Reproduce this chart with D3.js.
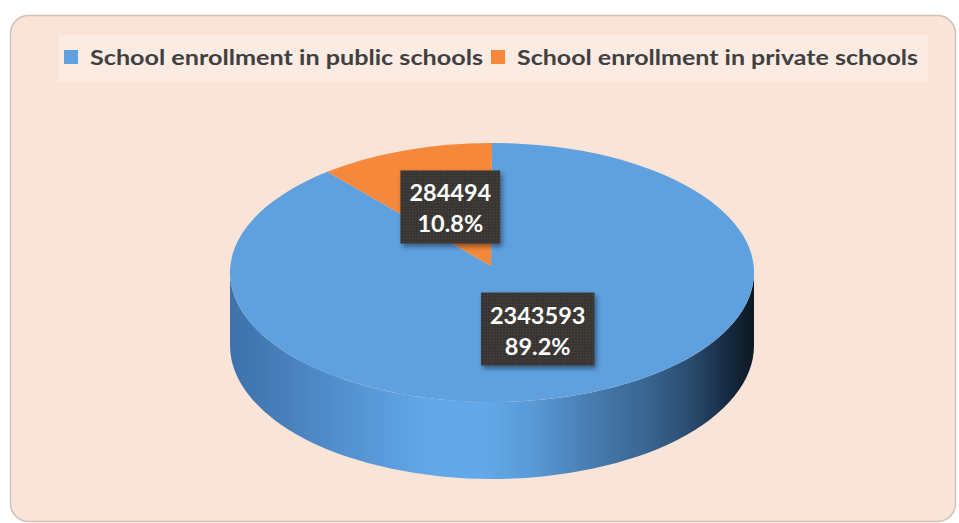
<!DOCTYPE html>
<html>
<head>
<meta charset="utf-8">
<script src="https://cdn.jsdelivr.net/npm/d3@7"></script>
<style>
  html, body { margin: 0; padding: 0; background: #ffffff; }
  svg { display: block; }
</style>
</head>
<body>
<svg id="chart" width="959" height="523"></svg>
<script>
// Enrollment by school type
const categories = ["School enrollment in public schools", "School enrollment in private schools"];
const enrollment = [2343593, 284494];
const sliceColors = ["#5fa0df", "#f5883a"];

const W = 959, H = 523;
const svg = d3.select("#chart");
const defs = svg.append("defs");

// --- frame -------------------------------------------------------------
svg.append("rect")
  .attr("x", 10.5).attr("y", 15.5)
  .attr("width", 945).attr("height", 506)
  .attr("rx", 18).attr("ry", 18)
  .attr("fill", "#f9e4d7")
  .attr("stroke", "#cdc1b8")
  .attr("stroke-width", 1.5);

// --- legend ------------------------------------------------------------
svg.append("rect")
  .attr("x", 58).attr("y", 35)
  .attr("width", 870).attr("height", 47)
  .attr("fill", "#fbebe2");

const legendItems = [
  { swatchX: 64, textX: 90, textWidth: 393 },
  { swatchX: 491, textX: 517, textWidth: 401 }
];
const legend = svg.append("g").attr("class", "legend");
categories.forEach((name, i) => {
  const it = legendItems[i];
  legend.append("rect")
    .attr("x", it.swatchX).attr("y", 50)
    .attr("width", 14).attr("height", 14)
    .attr("fill", sliceColors[i]);
  legend.append("text")
    .attr("x", it.textX).attr("y", 65)
    .attr("font-family", "Lato, 'Open Sans', sans-serif")
    .attr("font-weight", 700)
    .attr("font-size", 21.5)
    .attr("fill", "#404040")
    .attr("textLength", it.textWidth)
    .attr("lengthAdjust", "spacingAndGlyphs")
    .text(name);
});

// --- 3D pie geometry ----------------------------------------------------
const cx = 492, cy = 272.5;     // centre of the top ellipse
const rx = 262, ry = 129.5;     // radii of the top ellipse
const tipX = 491, tipY = 266;   // apex where the slices meet
const depth = 73;               // thickness of the disc
const ryBottom = ry + 4;        // lower rim is slightly rounder (perspective)

const pie = d3.pie().sort(null).startAngle(0).endAngle(2 * Math.PI);
const arcs = pie(enrollment);
const total = d3.sum(enrollment);
const pct = d3.format(".1%");

const topPt = a => [cx + rx * Math.sin(a), cy - ry * Math.cos(a)];
const botPt = a => [cx + rx * Math.sin(a), cy + depth - ryBottom * Math.cos(a)];

// side gradient: dark at both ends, lit in the middle
const sideGrad = defs.append("linearGradient")
  .attr("id", "sideGrad")
  .attr("gradientUnits", "userSpaceOnUse")
  .attr("x1", cx - rx).attr("x2", cx + rx).attr("y1", 0).attr("y2", 0);
[
  [0.00, "#3d72aa"], [0.08, "#467cb7"], [0.22, "#5391d0"],
  [0.38, "#61a8e8"], [0.48, "#63a9e9"], [0.58, "#5899d6"],
  [0.70, "#4779ad"], [0.80, "#38648f"], [0.88, "#2a4b6e"],
  [0.95, "#162a40"], [1.00, "#0d1822"]
].forEach(([o, c]) => sideGrad.append("stop").attr("offset", o).attr("stop-color", c));

const sideGradOrange = defs.append("linearGradient")
  .attr("id", "sideGradOrange")
  .attr("gradientUnits", "userSpaceOnUse")
  .attr("x1", cx - rx).attr("x2", cx + rx).attr("y1", 0).attr("y2", 0);
[[0, "#a85a20"], [0.45, "#f5883a"], [1, "#4a250a"]]
  .forEach(([o, c]) => sideGradOrange.append("stop").attr("offset", o).attr("stop-color", c));

// side walls (front half only: angles between PI/2 and 3PI/2)
const pieG = svg.append("g").attr("class", "pie3d");
arcs.forEach((d, i) => {
  const a0 = Math.max(d.startAngle, Math.PI / 2);
  const a1 = Math.min(d.endAngle, 3 * Math.PI / 2);
  if (a1 <= a0) return;
  const p0 = topPt(a0), p1 = topPt(a1);
  const b0 = botPt(a0), b1 = botPt(a1);
  const large = (a1 - a0) > Math.PI ? 1 : 0;
  const path = `M${p0[0]},${p0[1]}` +
    `A${rx},${ry} 0 ${large} 1 ${p1[0]},${p1[1]}` +
    `L${b1[0]},${b1[1]}` +
    `A${rx},${ryBottom} 0 ${large} 0 ${b0[0]},${b0[1]}Z`;
  pieG.append("path")
    .attr("d", path)
    .attr("fill", i === 0 ? "url(#sideGrad)" : "url(#sideGradOrange)");
});

// top faces
arcs.forEach((d, i) => {
  const p0 = topPt(d.startAngle), p1 = topPt(d.endAngle);
  const large = (d.endAngle - d.startAngle) > Math.PI ? 1 : 0;
  const path = `M${tipX},${tipY}L${p0[0]},${p0[1]}` +
    `A${rx},${ry} 0 ${large} 1 ${p1[0]},${p1[1]}Z`;
  pieG.append("path")
    .attr("d", path)
    .attr("fill", sliceColors[i]);
});

// --- data labels ---------------------------------------------------------
const shadow = defs.append("filter").attr("id", "labelShadow")
  .attr("x", "-30%").attr("y", "-30%").attr("width", "160%").attr("height", "160%");
shadow.append("feDropShadow")
  .attr("dx", 2).attr("dy", 3).attr("stdDeviation", 2.5)
  .attr("flood-color", "#000").attr("flood-opacity", 0.45);

const dots = defs.append("pattern").attr("id", "labelDots")
  .attr("width", 3).attr("height", 3).attr("patternUnits", "userSpaceOnUse");
dots.append("rect").attr("width", 3).attr("height", 3).attr("fill", "#383532");
dots.append("rect").attr("x", 1).attr("y", 1).attr("width", 1).attr("height", 1).attr("fill", "#4d4a46");

const labelG = svg.append("g").attr("class", "labels");
arcs.forEach((d, i) => {
  const mid = (d.startAngle + d.endAngle) / 2;
  const lx = tipX + 0.5 * rx * Math.sin(mid) + 3;
  const ly = tipY - 0.5 * ry * Math.cos(mid) + 2;
  const g = labelG.append("g");
  const box = g.append("rect").attr("fill", "url(#labelDots)").attr("filter", "url(#labelShadow)");
  const lines = [String(d.data), pct(d.data / total)];
  const texts = lines.map((s, k) => g.append("text")
    .attr("x", lx).attr("y", ly + (k === 0 ? -5.5 : 25.5))
    .attr("text-anchor", "middle")
    .attr("font-family", "Lato, 'Open Sans', sans-serif")
    .attr("font-weight", 700)
    .attr("font-size", 23.5)
    .attr("fill", "#ffffff")
    .text(s));
  const w = d3.max(texts, t => t.node().getComputedTextLength()) + 18;
  box.attr("x", lx - w / 2).attr("y", ly - 36.5)
    .attr("width", w).attr("height", 73);
});
</script>
</body>
</html>
